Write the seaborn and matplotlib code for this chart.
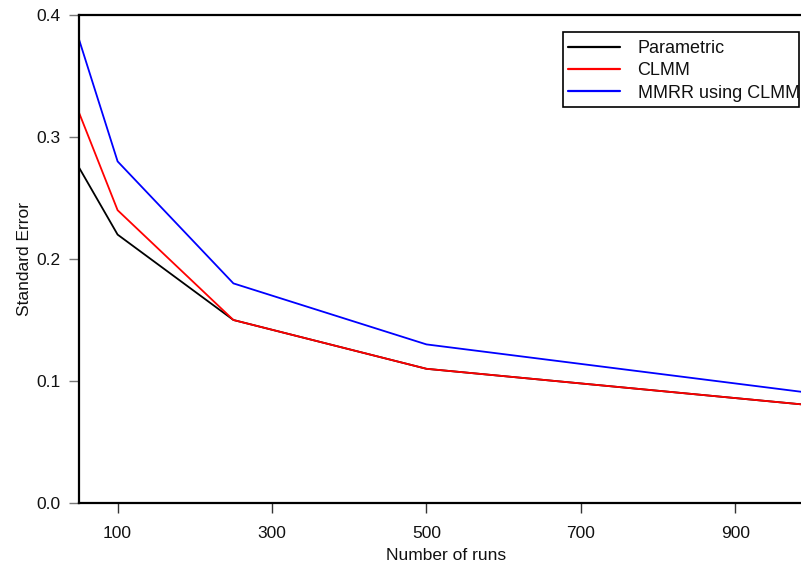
import matplotlib
matplotlib.use("Agg")
import matplotlib.pyplot as plt
from matplotlib.patches import Rectangle
import seaborn as sns
import pandas as pd

# Simulation results: standard error of the estimate by number of runs
runs = [50, 100, 250, 500, 1000]
parametric = [0.275, 0.22, 0.15, 0.11, 0.08]
clmm = [0.32, 0.24, 0.15, 0.11, 0.08]
mmrr_clmm = [0.38, 0.28, 0.18, 0.13, 0.09]

methods = ["Parametric", "CLMM", "MMRR using CLMM"]
colors = ["black", "red", "blue"]

x_ticks = [100, 300, 500, 700, 900]
y_ticks = [0.0, 0.1, 0.2, 0.3, 0.4]

df = pd.DataFrame({
    "runs": runs * 3,
    "se": parametric + clmm + mmrr_clmm,
    "method": [m for m in methods for _ in runs],
})

sns.set_style("white")
plt.rcParams["font.family"] = ["Liberation Sans", "DejaVu Sans"]

fig = plt.figure(figsize=(8.01, 5.69), dpi=100)
ax = fig.add_axes([79 / 801, 66 / 569, 733.5 / 801, 488 / 569])

sns.lineplot(data=df, x="runs", y="se", hue="method", hue_order=methods,
             palette=colors, linewidth=1.3, ax=ax, legend=False)

ax.set_xlim(50, 1000)
ax.set_ylim(0, 0.4)
ax.set_xticks(x_ticks)
ax.set_xticklabels([str(t) for t in x_ticks])
ax.set_yticks(y_ticks)
ax.set_yticklabels([f"{t:.1f}" for t in y_ticks])

for side in ["left", "bottom", "top", "right"]:
    ax.spines[side].set_color("black")
    ax.spines[side].set_linewidth(1.6)

ax.tick_params(axis="both", which="major", direction="out", length=7,
               width=1, labelsize=12.5, labelcolor="#111111",
               bottom=True, left=True)
ax.tick_params(axis="y", pad=6, color="#777777")
ax.tick_params(axis="x", pad=9.5, color="#333333")

ax.set_xlabel("Number of runs", fontsize=12.5, labelpad=5, color="#111111")
ax.set_ylabel("Standard Error", fontsize=12.5, labelpad=3.5, color="#111111")

# legend entries without frame, box drawn separately
handles = [plt.Line2D([], [], color=c, linewidth=1.6) for c in colors]
leg = ax.legend(handles, methods, loc="upper left",
                bbox_to_anchor=(0.6667, 0.949), frameon=False,
                fontsize=13, handlelength=2.9, handletextpad=0.95,
                labelspacing=0.3, borderpad=0, borderaxespad=0)
for t in leg.get_texts():
    t.set_color("#111111")

x0, x1 = (563 - 79) / 733.5, (799 - 79) / 733.5
y0, y1 = (503 - 107) / 488, (503 - 32) / 488
ax.add_patch(Rectangle((x0, y0), x1 - x0, y1 - y0, transform=ax.transAxes,
                       fill=False, edgecolor="black", linewidth=1.2,
                       clip_on=False, zorder=5))

fig.savefig("out.png", dpi=100)
